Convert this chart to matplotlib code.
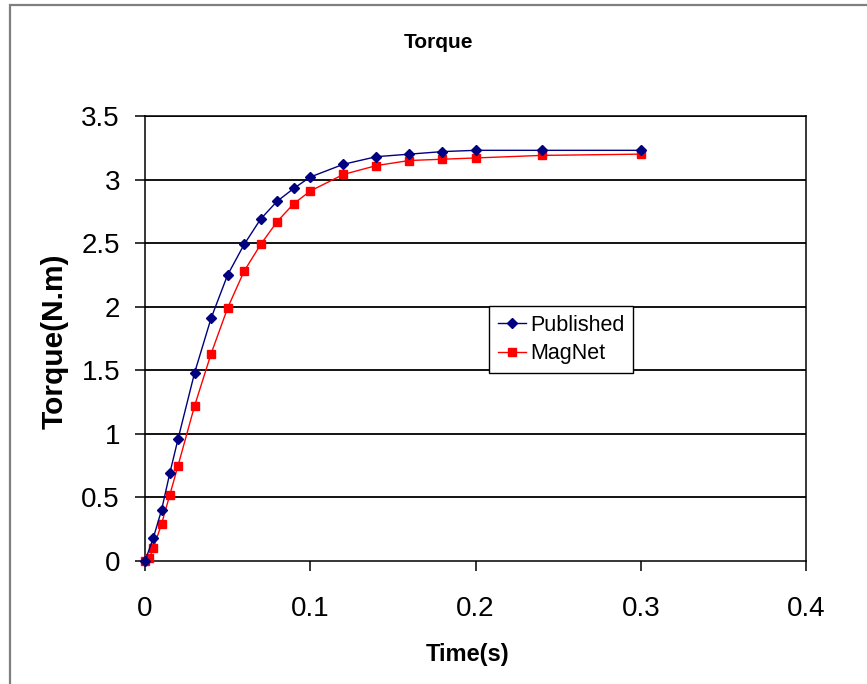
import matplotlib
matplotlib.use("Agg")
import matplotlib.pyplot as plt
from matplotlib.patches import Rectangle

plt.rcParams['font.family'] = ['Liberation Sans', 'DejaVu Sans']

time_pub = [0, 0.005, 0.01, 0.015, 0.02, 0.03, 0.04, 0.05, 0.06, 0.07, 0.08, 0.09,
            0.10, 0.12, 0.14, 0.16, 0.18, 0.20, 0.24, 0.30]
torque_pub = [0, 0.18, 0.40, 0.69, 0.96, 1.48, 1.91, 2.25, 2.49, 2.69, 2.83, 2.93,
              3.02, 3.12, 3.18, 3.20, 3.22, 3.23, 3.23, 3.23]

time_mag = [0, 0.0025, 0.005, 0.01, 0.015, 0.02, 0.03, 0.04, 0.05, 0.06, 0.07, 0.08,
            0.09, 0.10, 0.12, 0.14, 0.16, 0.18, 0.20, 0.24, 0.30]
torque_mag = [0, 0.02, 0.10, 0.29, 0.52, 0.75, 1.22, 1.63, 1.99, 2.28, 2.49, 2.67,
              2.81, 2.91, 3.04, 3.11, 3.15, 3.16, 3.17, 3.19, 3.20]

x_ticks = [0, 0.1, 0.2, 0.3, 0.4]
x_tick_labels = ["0", "0.1", "0.2", "0.3", "0.4"]
y_ticks = [0, 0.5, 1, 1.5, 2, 2.5, 3, 3.5]
y_tick_labels = ["0", "0.5", "1", "1.5", "2", "2.5", "3", "3.5"]

W, H = 867, 684
fig = plt.figure(figsize=(W / 100, H / 100), dpi=100)
fig.patch.set_facecolor('white')

# outer chart frame (only left/top visible)
fig.patches.append(Rectangle((10 / W, -0.5), 2.0, 1.5 - 5 / H, transform=fig.transFigure,
                             fill=False, edgecolor='#7f7f7f', linewidth=1.6))

ax = fig.add_axes([145 / W, 1 - 561 / H, (806 - 145) / W, (561 - 116) / H])
ax.set_xlim(0, 0.4)
ax.set_ylim(0, 3.5)

for y in y_ticks[1:]:
    ax.axhline(y, color='black', linewidth=1.3, zorder=1)

ax.plot(time_pub, torque_pub, color='#000080', linewidth=1.0, marker='D', markersize=5.5,
        markerfacecolor='#000080', markeredgecolor='#000080', label='Published',
        clip_on=False, zorder=4)
ax.plot(time_mag, torque_mag, color='#ff0000', linewidth=1.0, marker='s', markersize=5.5,
        markerfacecolor='#ff0000', markeredgecolor='#ff0000', label='MagNet',
        clip_on=False, zorder=3)

for side in ['left', 'bottom', 'right', 'top']:
    ax.spines[side].set_color('black')
    ax.spines[side].set_linewidth(1.1)

ax.set_xticks(x_ticks)
ax.set_xticklabels(x_tick_labels, fontsize=20)
ax.set_yticks(y_ticks)
ax.set_yticklabels(y_tick_labels, fontsize=20)
ax.tick_params(axis='both', direction='out', length=7, width=1.1, colors='black')
ax.tick_params(axis='y', pad=11)
ax.tick_params(axis='x', pad=18)

fig.text(438 / W, 1 - 42 / H, 'Torque', ha='center', va='center', fontsize=15,
         fontweight='bold')
fig.text(468 / W, 1 - 655 / H, 'Time(s)', ha='center', va='center', fontsize=17,
         fontweight='bold')
fig.text(55 / W, 1 - 341 / H, 'Torque(N.m)', ha='center', va='center', fontsize=21.5,
         fontweight='bold', rotation=90)

leg = ax.legend(loc='upper left', bbox_to_anchor=((489 - 145) / (806 - 145), (561 - 306) / (561 - 116)),
                fontsize=15.5, frameon=True, fancybox=False, framealpha=1,
                edgecolor='black', borderpad=0.4, labelspacing=0.35, handlelength=1.3,
                handletextpad=0.2, borderaxespad=0)
leg.get_frame().set_linewidth(1.0)

fig.savefig('out.png', dpi=100)
